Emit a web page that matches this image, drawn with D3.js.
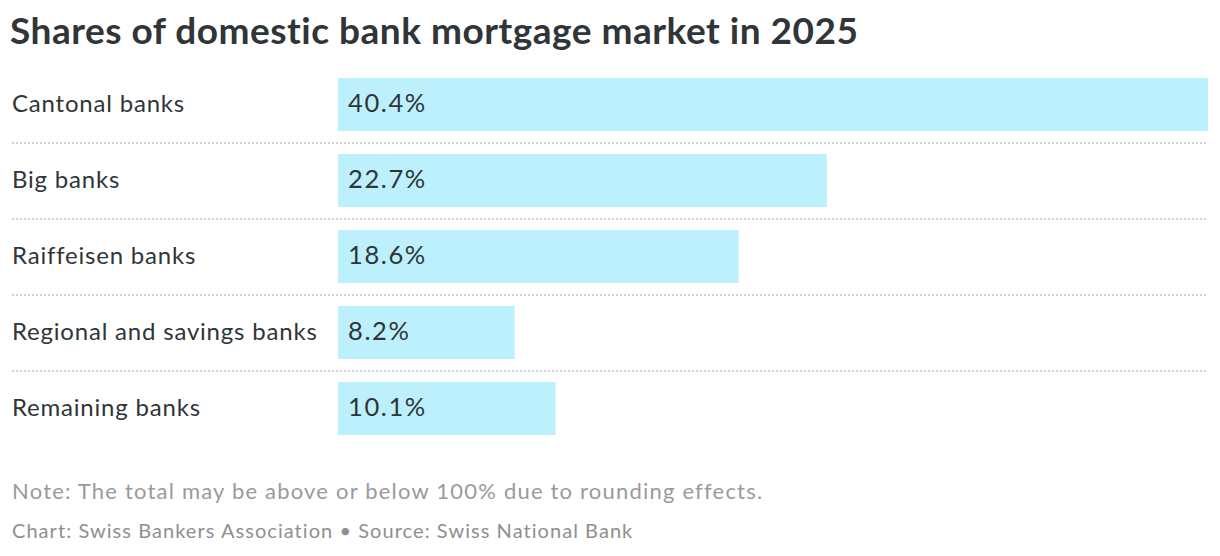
<!DOCTYPE html>
<html lang="en">
<head>
  <meta charset="UTF-8">
  <title>Mortgage market shares</title>
  <style>
    body { margin: 0; background: #fff; }
    text { font-family: Lato, "Noto Sans", sans-serif; }
  </style>
</head>
<body>
  <svg id="svg" width="1220" height="556"></svg>

  <script src="https://d3js.org/d3.v7.min.js"></script>
  <script>
    const categories = ["Cantonal banks", "Big banks", "Raiffeisen banks", "Regional and savings banks", "Remaining banks"]
    const shares = [40.4, 22.7, 18.6, 8.2, 10.1]
    const valueLabels = ["40.4%", "22.7%", "18.6%", "8.2%", "10.1%"]

    const data = categories.map((c, i) => ({ name: c, value: shares[i], label: valueLabels[i] }))

    const svg = d3.select("#svg")
    const textColor = "#2f3538"

    // title
    svg.append("text")
      .attr("x", 10)
      .attr("y", 44)
      .attr("font-size", 37)
      .attr("font-weight", 700)
      .attr("letter-spacing", 0.5)
      .attr("fill", textColor)
      .text("Shares of domestic bank mortgage market in 2025")

    const rowTop = 66
    const rowStep = 76

    const xScale = d3.scaleLinear()
      .domain([0, d3.max(shares)])
      .range([338, 1208])

    const yScale = d3.scaleBand()
      .domain(categories)
      .range([rowTop, rowTop + rowStep * categories.length])
      .paddingInner(0)

    const rows = svg.selectAll("g.row")
      .data(data)
      .enter()
      .append("g")
      .attr("class", "row")
      .attr("transform", d => `translate(0,${yScale(d.name)})`)

    rows.append("rect")
      .attr("x", xScale(0))
      .attr("y", 12)
      .attr("width", d => xScale(d.value) - xScale(0))
      .attr("height", 53)
      .attr("fill", "#bdf0fd")

    rows.append("text")
      .attr("x", 12)
      .attr("y", 46)
      .attr("font-size", 24)
      .attr("letter-spacing", 0.8)
      .attr("fill", textColor)
      .text(d => d.name)

    rows.append("text")
      .attr("x", xScale(0) + 10)
      .attr("y", 46)
      .attr("font-size", 25.5)
      .attr("letter-spacing", 1.6)
      .attr("fill", textColor)
      .text(d => d.label)

    // dotted separators between rows
    rows.filter((d, i) => i < data.length - 1)
      .append("line")
      .attr("x1", 12)
      .attr("x2", 1208)
      .attr("y1", 77)
      .attr("y2", 77)
      .attr("stroke", "#cfcfcf")
      .attr("stroke-width", 2)
      .attr("stroke-dasharray", "2,2")

    // footer
    svg.append("text")
      .attr("x", 12)
      .attr("y", 499)
      .attr("font-size", 22)
      .attr("letter-spacing", 1.2)
      .attr("fill", "#9a9a9a")
      .text("Note: The total may be above or below 100% due to rounding effects.")

    svg.append("text")
      .attr("x", 12)
      .attr("y", 538)
      .attr("font-size", 20)
      .attr("letter-spacing", 1.05)
      .attr("fill", "#8f8f8f")
      .text("Chart: Swiss Bankers Association \u2022 Source: Swiss National Bank")
  </script>
</body>
</html>
